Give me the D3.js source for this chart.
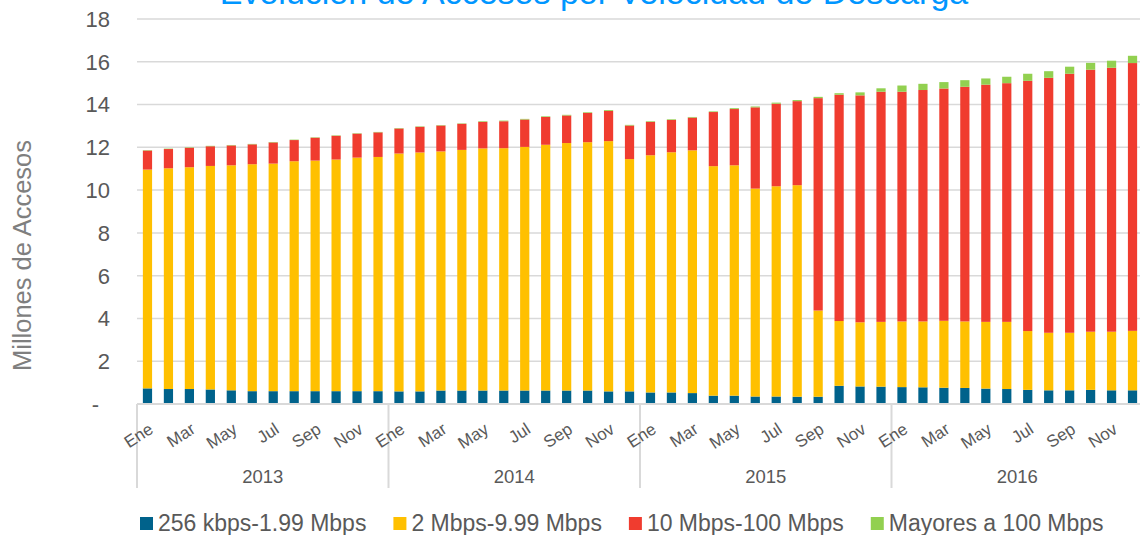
<!DOCTYPE html>
<html>
<head>
<meta charset="utf-8">
<script src="https://cdn.jsdelivr.net/npm/d3@7"></script>
<style>
  body { margin: 0; background: #fff; }
  svg { display: block; font-family: 'Liberation Sans', Arial, sans-serif; }
</style>
</head>
<body>
<svg id="chart" width="1140" height="535"></svg>
<script>
const years = [2013, 2014, 2015, 2016]
const months = ['Ene', 'Feb', 'Mar', 'Abr', 'May', 'Jun', 'Jul', 'Ago', 'Sep', 'Oct', 'Nov', 'Dic']
const seriesNames = ['256 kbps-1.99 Mbps', '2 Mbps-9.99 Mbps', '10 Mbps-100 Mbps', 'Mayores a 100 Mbps']
const yTicks = [0, 2, 4, 6, 8, 10, 12, 14, 16, 18]

// millones de accesos, Ene 2013 .. Dic 2016
const s256 = [
  0.73, 0.70, 0.70, 0.68, 0.64, 0.60, 0.60, 0.60, 0.60, 0.60, 0.60, 0.60,
  0.59, 0.59, 0.63, 0.63, 0.63, 0.63, 0.63, 0.63, 0.63, 0.63, 0.59, 0.59,
  0.54, 0.54, 0.51, 0.39, 0.39, 0.35, 0.35, 0.34, 0.34, 0.85, 0.82, 0.81,
  0.79, 0.78, 0.76, 0.75, 0.72, 0.70, 0.66, 0.64, 0.64, 0.66, 0.64, 0.64,
]
const s2 = [
  10.23, 10.32, 10.37, 10.45, 10.52, 10.61, 10.64, 10.75, 10.78, 10.83, 10.92, 10.95,
  11.12, 11.17, 11.18, 11.25, 11.32, 11.33, 11.39, 11.49, 11.57, 11.61, 11.70, 10.86,
  11.09, 11.23, 11.35, 10.73, 10.77, 9.72, 9.83, 9.89, 4.03, 3.03, 3.00, 3.03,
  3.07, 3.08, 3.13, 3.11, 3.12, 3.14, 2.75, 2.69, 2.69, 2.72, 2.74, 2.78,
]
const s10 = [
  0.89, 0.90, 0.91, 0.92, 0.93, 0.93, 0.99, 0.99, 1.07, 1.11, 1.12, 1.15,
  1.17, 1.20, 1.21, 1.22, 1.24, 1.26, 1.28, 1.30, 1.29, 1.37, 1.41, 1.57,
  1.56, 1.51, 1.53, 2.53, 2.63, 3.80, 3.86, 3.93, 9.93, 10.58, 10.61, 10.76,
  10.74, 10.82, 10.86, 10.97, 11.09, 11.16, 11.70, 11.92, 12.11, 12.25, 12.34, 12.52,
]
const s100 = [
  0.02, 0.02, 0.02, 0.02, 0.02, 0.02, 0.02, 0.02, 0.02, 0.02, 0.02, 0.02,
  0.02, 0.02, 0.02, 0.02, 0.03, 0.03, 0.03, 0.03, 0.03, 0.03, 0.04, 0.03,
  0.03, 0.03, 0.03, 0.03, 0.04, 0.04, 0.05, 0.05, 0.06, 0.07, 0.14, 0.16,
  0.29, 0.29, 0.30, 0.31, 0.29, 0.30, 0.33, 0.31, 0.33, 0.32, 0.33, 0.34,
]

const colors = ['#00628B', '#FFC000', '#F03C2F', '#92D050']
const textColor = '#595959'
const gridColor = '#d9d9d9'

const categories = []
years.forEach(yr => months.forEach(m => categories.push(`${m}-${yr}`)))

const rows = categories.map((c, i) => ({
  cat: c,
  s0: s256[i],
  s1: s2[i],
  s2: s10[i],
  s3: s100[i],
}))

const keys = ['s0', 's1', 's2', 's3']
const stacked = d3.stack().keys(keys)(rows)

const svg = d3.select('#chart')

const margin = { top: 19, left: 137, right: -3, bottom: 131 }
const width = 1140 - margin.left - margin.right
const baseY = 535 - margin.bottom

const x = d3
  .scaleBand()
  .domain(categories)
  .range([margin.left, margin.left + width])
  .paddingInner(0.56)
  .paddingOuter(0.28)

const y = d3.scaleLinear().domain([0, 18]).range([baseY, margin.top])

// title (cut off at the top, as in the source)
svg
  .append('text')
  .attr('x', 594)
  .attr('y', 4)
  .attr('text-anchor', 'middle')
  .attr('font-size', '34px')
  .attr('fill', '#0096FF')
  .text('Evolución de Accesos por Velocidad de Descarga')

// grid
svg
  .append('g')
  .selectAll('line')
  .data(yTicks.filter(d => d > 0))
  .enter()
  .append('line')
  .attr('x1', margin.left)
  .attr('x2', 1140)
  .attr('y1', d => y(d))
  .attr('y2', d => y(d))
  .attr('stroke', gridColor)
  .attr('stroke-width', 1.5)

// y tick labels
svg
  .append('g')
  .selectAll('text')
  .data(yTicks)
  .enter()
  .append('text')
  .attr('x', d => (d === 0 ? 99 : 110))
  .attr('y', d => y(d))
  .attr('dy', '0.36em')
  .attr('text-anchor', 'end')
  .attr('font-size', '22px')
  .attr('fill', textColor)
  .text(d => (d === 0 ? '-' : d))

svg
  .append('text')
  .attr('transform', `translate(31, ${(y(0) + y(18)) / 2 + 44}) rotate(-90)`)
  .attr('text-anchor', 'middle')
  .attr('font-size', '25.5px')
  .attr('fill', '#7f7f7f')
  .text('Millones de Accesos')

// bars
svg
  .append('g')
  .selectAll('g')
  .data(stacked)
  .enter()
  .append('g')
  .attr('fill', (d, i) => colors[i])
  .selectAll('rect')
  .data(d => d)
  .enter()
  .append('rect')
  .attr('x', d => x(d.data.cat))
  .attr('width', x.bandwidth())
  .attr('y', d => y(d[1]))
  .attr('height', d => y(d[0]) - y(d[1]))

// x axis line
svg
  .append('line')
  .attr('x1', margin.left)
  .attr('x2', 1140)
  .attr('y1', baseY)
  .attr('y2', baseY)
  .attr('stroke', gridColor)
  .attr('stroke-width', 2)

// year separators
const yearStart = yr => x(`Ene-${yr}`) - x.step() * x.paddingOuter()
svg
  .append('g')
  .selectAll('line')
  .data(years)
  .enter()
  .append('line')
  .attr('x1', d => yearStart(d))
  .attr('x2', d => yearStart(d))
  .attr('y1', baseY)
  .attr('y2', baseY + 84)
  .attr('stroke', gridColor)
  .attr('stroke-width', 2)

// month labels (every other month)
svg
  .append('g')
  .selectAll('text')
  .data(categories.filter((c, i) => i % 2 === 0))
  .enter()
  .append('text')
  .attr('transform', d => `translate(${x(d) + x.bandwidth() / 2 + 7}, ${baseY + 28}) rotate(-33)`)
  .attr('text-anchor', 'end')
  .attr('font-size', '17px')
  .attr('fill', textColor)
  .text(d => d.split('-')[0])

// year labels
svg
  .append('g')
  .selectAll('text')
  .data(years)
  .enter()
  .append('text')
  .attr('x', d => yearStart(d) + x.step() * 6)
  .attr('y', baseY + 79)
  .attr('text-anchor', 'middle')
  .attr('font-size', '18.5px')
  .attr('fill', textColor)
  .text(d => d)

// legend
const legend = svg.append('g').attr('transform', `translate(140, 517)`)
let lx = 0
seriesNames.forEach((name, i) => {
  const item = legend.append('g').attr('transform', `translate(${lx}, 0)`)
  item.append('rect').attr('width', 13).attr('height', 13).attr('fill', colors[i])
  const t = item
    .append('text')
    .attr('x', 18)
    .attr('y', 14)
    .attr('font-size', '23px')
    .attr('fill', textColor)
    .text(name)
  lx += 18 + t.node().getComputedTextLength() + 27
})
</script>
</body>
</html>
